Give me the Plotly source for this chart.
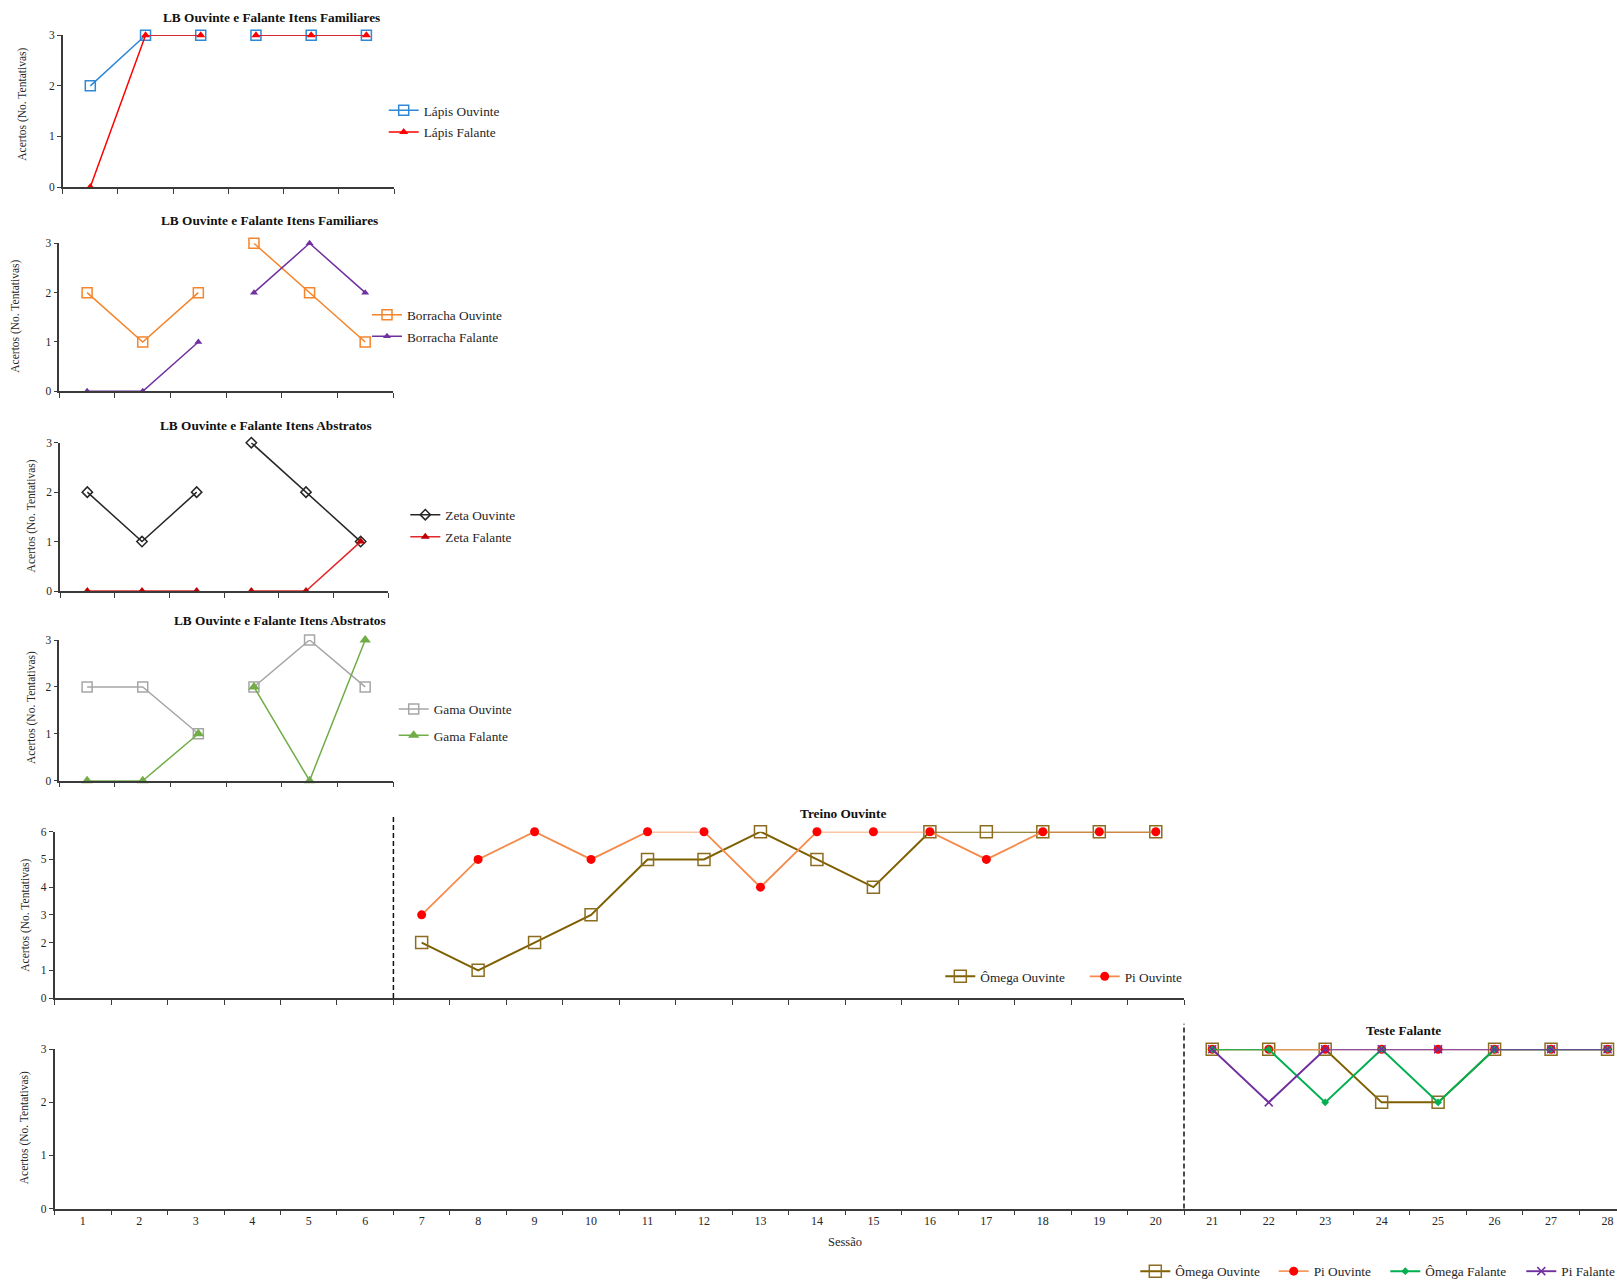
import plotly.graph_objects as go

W, H = 1617, 1280
FONT = "Liberation Serif"
INK = "#262626"
AXIS = "#3a3a3a"

# ---------------- data ----------------
sessions_lb = [1, 2, 3, 4, 5, 6]
lb_break_after = 3

lapis_ouvinte = [2, 3, 3, 3, 3, 3]
lapis_falante = [0, 3, 3, 3, 3, 3]
borracha_ouvinte = [2, 1, 2, 3, 2, 1]
borracha_falante = [0, 0, 1, 2, 3, 2]
zeta_ouvinte = [2, 1, 2, 3, 2, 1]
zeta_falante = [0, 0, 0, 0, 0, 1]
gama_ouvinte = [2, 2, 1, 2, 3, 2]
gama_falante = [0, 0, 1, 2, 0, 3]

sessions_treino = [7, 8, 9, 10, 11, 12, 13, 14, 15, 16, 17, 18, 19, 20]
omega_ouvinte_treino = [2, 1, 2, 3, 5, 5, 6, 5, 4, 6, 6, 6, 6, 6]
pi_ouvinte_treino = [3, 5, 6, 5, 6, 6, 4, 6, 6, 6, 5, 6, 6, 6]

sessions_teste = [21, 22, 23, 24, 25, 26, 27, 28]
omega_ouvinte_teste = [3, 3, 3, 2, 2, 3, 3, 3]
pi_ouvinte_teste = [3, 3, 3, 3, 3, 3, 3, 3]
omega_falante_teste = [3, 3, 2, 3, 2, 3, 3, 3]
pi_falante_teste = [3, 2, 3, 3, 3, 3, 3, 3]

all_sessions = list(range(1, 29))

panel_titles = [
    "LB Ouvinte e Falante Itens Familiares",
    "LB Ouvinte e Falante Itens Familiares",
    "LB Ouvinte e Falante Itens Abstratos",
    "LB Ouvinte e Falante Itens Abstratos",
    "Treino Ouvinte",
    "Teste Falante",
]
y_title = "Acertos (No. Tentativas)"
x_title = "Sessão"

# ---------------- layout geometry (pixels: left, right, top, bottom) ----------------
boxes = {
    1: (62.7, 394.0, 35.3, 187.0),
    2: (59.3, 393.0, 243.3, 391.3),
    3: (60.0, 388.0, 442.7, 591.0),
    4: (59.3, 393.0, 640.0, 780.7),
    5: (54.6, 1184.0, 831.7, 998.0),
    6: (54.6, 1617.0, 1049.3, 1208.5),
}


def xdom(n):
    l, r, t, b = boxes[n]
    return [l / W, r / W]


def ydom(n):
    l, r, t, b = boxes[n]
    return [1 - b / H, 1 - t / H]


def px(x):
    return x / W


def py(y):
    return 1 - y / H


def broken(xs, ys, after):
    bx, by = [], []
    for x, y in zip(xs, ys):
        bx.append(x)
        by.append(y)
        if x == after:
            bx.append(None)
            by.append(None)
    return bx, by


fig = go.Figure()
legend_layouts = {}
legend_count = [0]


def add(panel, xs, ys, name, line_color, symbol, size, marker_color=None,
        width=1.5, mline=1.5, legend_at=None, brk=None):
    legend_count[0] += 1
    lid = "legend" if legend_count[0] == 1 else f"legend{legend_count[0]}"
    if brk is not None:
        xs, ys = broken(xs, ys, brk)
    mc = marker_color or line_color
    suffix = "" if panel == 1 else str(panel)
    fig.add_trace(go.Scatter(
        x=xs, y=ys, name=name, mode="lines+markers",
        xaxis="x" + suffix, yaxis="y" + suffix,
        line=dict(color=line_color, width=width),
        marker=dict(symbol=symbol, size=size, color=mc,
                    line=dict(color=mc, width=mline)),
        cliponaxis=False, connectgaps=False, legend=lid, showlegend=True,
    ))
    tx, ty = legend_at
    legend_layouts[lid] = dict(
        x=px(tx - 38), y=py(ty), xref="paper", yref="paper",
        xanchor="left", yanchor="middle", bgcolor="rgba(0,0,0,0)",
        borderwidth=0, orientation="v", visible=True,
        font=dict(family=FONT, size=13.3, color=INK),
    )


# Panel 1 - Lápis
add(1, sessions_lb, lapis_ouvinte, "Lápis Ouvinte", "#2E88D6", "square-open", 10,
    legend_at=(421.7, 110.7), brk=lb_break_after)
add(1, sessions_lb, lapis_falante, "Lápis Falante", "#FF0000", "triangle-up", 8,
    mline=0, legend_at=(421.7, 132.3), brk=lb_break_after)
# Panel 2 - Borracha
add(2, sessions_lb, borracha_ouvinte, "Borracha Ouvinte", "#F5842B", "square-open", 10,
    legend_at=(405.0, 315.0), brk=lb_break_after)
add(2, sessions_lb, borracha_falante, "Borracha Falante", "#7030A0", "triangle-up", 7,
    mline=0, legend_at=(405.0, 336.7), brk=lb_break_after)
# Panel 3 - Zeta
add(3, sessions_lb, zeta_ouvinte, "Zeta Ouvinte", "#262626", "diamond-open", 8,
    legend_at=(443.3, 515.0), brk=lb_break_after)
add(3, sessions_lb, zeta_falante, "Zeta Falante", "#E3262B", "triangle-up", 8,
    marker_color="#C00000", mline=0, legend_at=(443.3, 537.0), brk=lb_break_after)
# Panel 4 - Gama
add(4, sessions_lb, gama_ouvinte, "Gama Ouvinte", "#A6A6A6", "square-open", 10,
    legend_at=(431.7, 709.3), brk=lb_break_after)
add(4, sessions_lb, gama_falante, "Gama Falante", "#70AD47", "triangle-up", 10,
    mline=0, legend_at=(431.7, 735.7), brk=lb_break_after)
# Panel 5 - Treino Ouvinte
add(5, sessions_treino, omega_ouvinte_treino, "Ômega Ouvinte", "#7F6000", "square-open", 12,
    marker_color="#8C6D1F", width=2, legend_at=(978.3, 976.7))
add(5, sessions_treino, pi_ouvinte_treino, "Pi Ouvinte", "#F58A4B", "circle", 9,
    marker_color="#FF0000", width=1.8, mline=0, legend_at=(1122.7, 976.7))
# Panel 6 - Teste Falante
add(6, sessions_teste, omega_ouvinte_teste, "Ômega Ouvinte", "#7F6000", "square-open", 12,
    marker_color="#8C6D1F", width=2, legend_at=(1173.3, 1271.5))
add(6, sessions_teste, pi_ouvinte_teste, "Pi Ouvinte", "#F79A60", "circle", 9,
    marker_color="#FF0000", width=1.8, mline=0, legend_at=(1311.7, 1271.5))
add(6, sessions_teste, omega_falante_teste, "Ômega Falante", "#00B050", "diamond", 6,
    width=2, mline=0, legend_at=(1423.3, 1271.5))
add(6, sessions_teste, pi_falante_teste, "Pi Falante", "#7030A0", "x-thin", 8,
    width=2, mline=1.5, legend_at=(1559.3, 1271.5))

# ---------------- axes ----------------
unit = (boxes[5][1] - boxes[5][0]) / len(range(1, 21))
x6_right = 0.5 + (W - boxes[6][0]) / unit

base_line = dict(showline=True, linecolor=AXIS, linewidth=1.5, showgrid=False,
                 zeroline=False, tickcolor=AXIS, tickwidth=1.3, fixedrange=True,
                 automargin=False)
tick_font = dict(family=FONT, size=11.5, color=INK)

layout_axes = {}
for n in range(1, 7):
    sfx = "" if n == 1 else str(n)
    if n <= 4:
        xr = [sessions_lb[0] - 0.5, sessions_lb[-1] + 0.5]
        bounds = [s - 0.5 for s in sessions_lb] + [sessions_lb[-1] + 0.5]
        yr, yt = [0, 3], [0, 1, 2, 3]
    elif n == 5:
        xr = [0.5, sessions_treino[-1] + 0.5]
        bounds = [s - 0.5 for s in range(1, 21)] + [20.5]
        yr, yt = [0, 6], [0, 1, 2, 3, 4, 5, 6]
    else:
        xr = [0.5, x6_right]
        bounds = [s - 0.5 for s in all_sessions] + [all_sessions[-1] + 0.5]
        yr, yt = [0, 3], [0, 1, 2, 3]

    xa = dict(base_line, domain=xdom(n), range=xr, anchor="y" + sfx)
    if n < 6:
        xa.update(tickmode="array", tickvals=bounds, ticks="outside", ticklen=5,
                  showticklabels=False)
    else:
        xa.update(tickmode="array", tickvals=all_sessions,
                  ticktext=[str(s) for s in all_sessions], ticks="",
                  tickfont=dict(family=FONT, size=12, color=INK),
                  minor=dict(tickmode="array", tickvals=bounds, ticks="outside",
                             ticklen=5, tickcolor=AXIS, tickwidth=1.3, showgrid=False))
    ya = dict(base_line, domain=ydom(n), range=yr, anchor="x" + sfx,
              tickmode="array", tickvals=yt, ticks="outside", ticklen=4,
              tickfont=tick_font)
    layout_axes["xaxis" + sfx] = xa
    layout_axes["yaxis" + sfx] = ya

# ---------------- annotations ----------------
annotations = []
title_pos = [(271.0, 17.5), (269.7, 221.0), (266.0, 425.7), (279.5, 620.7),
             (843.3, 813.3), (1403.8, 1030.0)]
for t, (tx, ty) in zip(panel_titles, title_pos):
    annotations.append(dict(text=f"<b>{t}</b>", x=px(tx), y=py(ty), xref="paper",
                            yref="paper", showarrow=False, xanchor="center",
                            yanchor="middle",
                            font=dict(family=FONT, size=13.3, color="#111111")))

ytitle_pos = [(21.7, 104.0), (16.0, 316.7), (31.7, 515.7), (31.7, 707.4),
              (24.7, 915.0), (24.7, 1127.5)]
for tx, ty in ytitle_pos:
    annotations.append(dict(text=y_title, x=px(tx), y=py(ty), xref="paper",
                            yref="paper", showarrow=False, textangle=-90,
                            xanchor="center", yanchor="middle",
                            font=dict(family=FONT, size=11.5, color=INK)))

annotations.append(dict(text=x_title, x=px(845.0), y=py(1241.7), xref="paper",
                        yref="paper", showarrow=False, xanchor="center",
                        yanchor="middle", font=dict(family=FONT, size=12.5, color=INK)))

# ---------------- phase-change lines ----------------
phase_treino = (sessions_lb[-1] + sessions_treino[0]) / 2
phase_teste = (sessions_treino[-1] + sessions_teste[0]) / 2
shapes = [
    dict(type="line", xref="x5", yref="y5 domain", x0=phase_treino, x1=phase_treino,
         y0=0, y1=1.088, line=dict(color="#111111", width=1.5, dash="5px,3px")),
    dict(type="line", xref="x6", yref="y6 domain", x0=phase_teste, x1=phase_teste,
         y0=0, y1=1.16, line=dict(color="#111111", width=1.5, dash="5px,3px")),
]

fig.update_layout(
    width=W, height=H, autosize=False,
    margin=dict(l=0, r=0, t=0, b=0, pad=0, autoexpand=False),
    paper_bgcolor="white", plot_bgcolor="white", showlegend=True,
    font=dict(family=FONT, color=INK),
    annotations=annotations, shapes=shapes,
    **layout_axes, **legend_layouts,
)

fig.write_html("out.html")
